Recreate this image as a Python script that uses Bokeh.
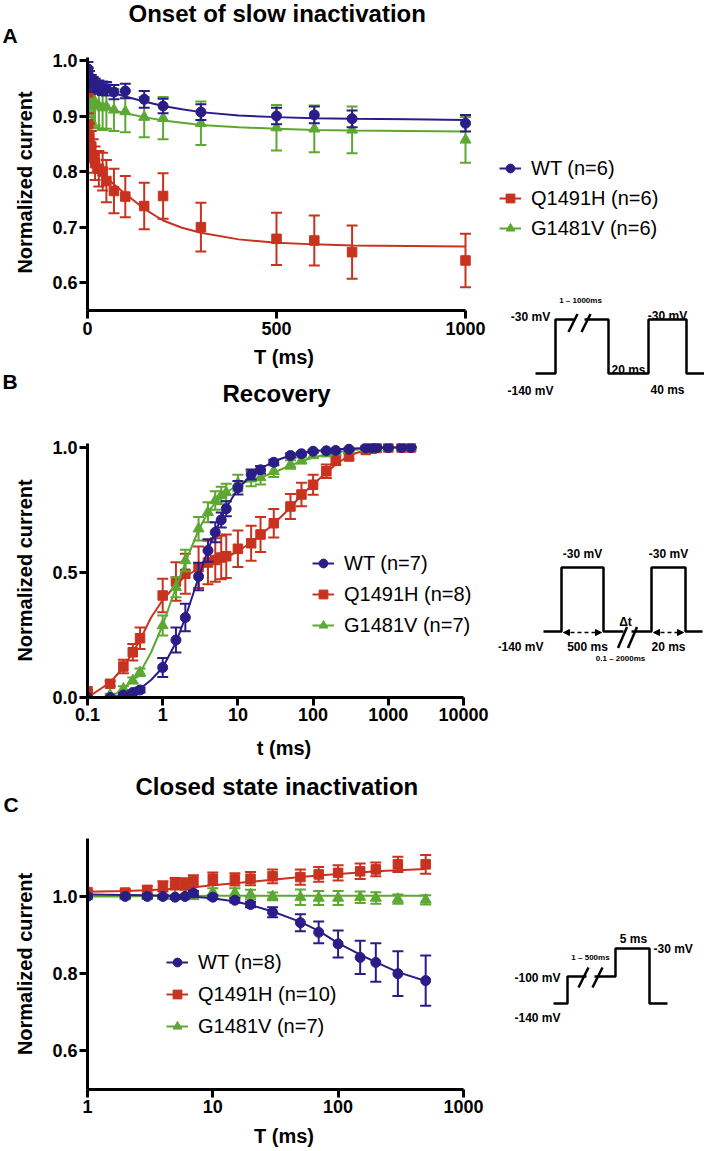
from bokeh.plotting import figure
from bokeh.models import (Range1d, FixedTicker, NumeralTickFormatter, CustomJSTickFormatter,
                          Legend, LegendItem, Title, Arrow, NormalHead, Spacer)
from bokeh.layouts import row, column
from bokeh.core.properties import value
from bokeh.embed import file_html
from bokeh.resources import INLINE

FONT = "Liberation Sans"
BLUE = "#2B1D87"
RED = "#C8321F"
GREEN = "#5DA833"

# ---------------- Panel A: onset of slow inactivation ----------------
A_T = [1, 2, 5, 10, 15, 20, 30, 40, 50, 70, 100, 150, 200, 300, 500, 600, 700, 1000]
WT_A = [0.985, 0.975, 0.968, 0.962, 0.958, 0.955, 0.952, 0.950, 0.949, 0.943, 0.945, 0.930, 0.918, 0.907, 0.900, 0.902, 0.895, 0.887]
WT_A_ERR = [0.012, 0.012, 0.013, 0.012, 0.012, 0.012, 0.012, 0.012, 0.012, 0.013, 0.013, 0.015, 0.013, 0.014, 0.015, 0.015, 0.015, 0.015]
Q_A = [0.945, 0.885, 0.862, 0.845, 0.828, 0.815, 0.805, 0.800, 0.783, 0.765, 0.755, 0.738, 0.756, 0.700, 0.679, 0.676, 0.655, 0.640]
Q_A_ERR = [0.010, 0.020, 0.025, 0.028, 0.030, 0.030, 0.032, 0.034, 0.038, 0.040, 0.037, 0.042, 0.041, 0.044, 0.047, 0.045, 0.048, 0.048]
G_A = [0.950, 0.935, 0.928, 0.922, 0.920, 0.925, 0.918, 0.915, 0.917, 0.911, 0.908, 0.898, 0.896, 0.887, 0.879, 0.877, 0.875, 0.857]
G_A_ERR = [0.010, 0.020, 0.030, 0.035, 0.040, 0.042, 0.040, 0.040, 0.040, 0.038, 0.037, 0.036, 0.038, 0.039, 0.041, 0.042, 0.042, 0.041]
A_FIT_T = [0, 5, 10, 20, 35, 50, 75, 100, 150, 200, 250, 300, 400, 500, 600, 700, 850, 1000]
WT_A_FIT = [0.965, 0.957, 0.953, 0.950, 0.947, 0.945, 0.940, 0.935, 0.926, 0.918, 0.912, 0.907, 0.901, 0.898, 0.896, 0.895, 0.894, 0.893]
Q_A_FIT = [0.875, 0.850, 0.834, 0.815, 0.800, 0.789, 0.774, 0.760, 0.733, 0.712, 0.699, 0.690, 0.678, 0.672, 0.669, 0.667, 0.666, 0.665]
G_A_FIT = [0.930, 0.926, 0.924, 0.920, 0.916, 0.913, 0.909, 0.905, 0.898, 0.892, 0.888, 0.884, 0.880, 0.877, 0.875, 0.874, 0.873, 0.872]
A_LABELS = ["WT (n=6)", "Q1491H (n=6)", "G1481V (n=6)"]
A_XTICKS = [0, 500, 1000]
A_YTICKS = [0.6, 0.7, 0.8, 0.9, 1.0]

# ---------------- Panel B: recovery ----------------
B_T = [0.1, 0.2, 0.3, 0.4, 0.5, 1, 1.5, 2, 3, 4, 5, 6, 7, 10, 15, 20, 30, 50, 70, 100, 150, 200, 300, 500, 600, 700, 1000, 1500, 2000]
WT_B = [0.0, 0.0, 0.01, 0.02, 0.03, 0.12, 0.23, 0.32, 0.484, 0.588, 0.661, 0.71, 0.755, 0.839, 0.892, 0.911, 0.941, 0.968, 0.975, 0.985, 0.987, 0.988, 0.993, 0.998, 1.0, 1.0, 1.0, 1.0, 1.0]
WT_B_ERR = [0, 0, 0.005, 0.008, 0.01, 0.038, 0.05, 0.055, 0.055, 0.045, 0.04, 0.03, 0.03, 0.027, 0.02, 0.015, 0.01, 0.008, 0.006, 0.005, 0.004, 0.004, 0.003, 0.002, 0.002, 0.002, 0.002, 0.002, 0.002]
Q_B = [0.025, 0.055, 0.124, 0.181, 0.237, 0.408, 0.464, 0.495, 0.521, 0.54, 0.55, 0.56, 0.565, 0.595, 0.617, 0.652, 0.697, 0.764, 0.812, 0.851, 0.905, 0.948, 0.964, 0.99, 0.995, 0.998, 1.0, 1.0, 1.0]
Q_B_ERR = [0.005, 0.01, 0.027, 0.033, 0.043, 0.067, 0.077, 0.08, 0.083, 0.087, 0.087, 0.087, 0.087, 0.073, 0.07, 0.07, 0.057, 0.05, 0.047, 0.04, 0.027, 0.018, 0.012, 0.006, 0.004, 0.003, 0.002, 0.002, 0.002]
G_B = [0.0, 0.01, 0.035, 0.068, 0.101, 0.288, 0.441, 0.548, 0.675, 0.741, 0.788, 0.808, 0.82, 0.858, 0.875, 0.88, 0.905, 0.932, 0.948, 0.968, 0.975, 0.982, 0.99, 0.995, 0.998, 1.0, 1.0, 1.0, 1.0]
G_B_ERR = [0, 0.005, 0.01, 0.012, 0.015, 0.04, 0.04, 0.043, 0.047, 0.04, 0.037, 0.035, 0.035, 0.033, 0.03, 0.028, 0.023, 0.017, 0.012, 0.01, 0.008, 0.006, 0.005, 0.003, 0.003, 0.002, 0.002, 0.002, 0.002]
WT_B_FIT_T = [0.2, 0.3, 0.5, 0.7, 1, 1.5, 2, 3, 4, 5, 7, 10, 15, 20, 30, 50, 70, 100, 200, 500, 1000, 2000]
WT_B_FIT = [0.0, 0.01, 0.035, 0.07, 0.12, 0.22, 0.32, 0.48, 0.59, 0.665, 0.76, 0.835, 0.89, 0.915, 0.945, 0.968, 0.978, 0.985, 0.993, 0.998, 1.0, 1.0]
Q_B_FIT_T = [0.1, 0.2, 0.3, 0.5, 0.7, 1, 1.5, 2, 3, 4, 5, 7, 10, 15, 20, 30, 50, 70, 100, 150, 200, 300, 500, 1000, 2000]
Q_B_FIT = [0.0, 0.06, 0.12, 0.23, 0.32, 0.39, 0.45, 0.485, 0.515, 0.53, 0.54, 0.56, 0.585, 0.62, 0.65, 0.695, 0.76, 0.81, 0.852, 0.9, 0.932, 0.968, 0.99, 1.0, 1.0]
G_B_FIT_T = [0.2, 0.3, 0.5, 0.7, 1, 1.5, 2, 3, 4, 5, 7, 10, 15, 20, 30, 50, 70, 100, 150, 200, 300, 500]
G_B_FIT = [0.0, 0.035, 0.1, 0.18, 0.29, 0.44, 0.54, 0.67, 0.74, 0.78, 0.82, 0.85, 0.87, 0.88, 0.9, 0.928, 0.945, 0.96, 0.972, 0.98, 0.988, 0.995]
B_LABELS = ["WT (n=7)", "Q1491H (n=8)", "G1481V (n=7)"]
B_XTICKS = [0.1, 1, 10, 100, 1000, 10000]
B_YTICKS = [0.0, 0.5, 1.0]

# ---------------- Panel C: closed state inactivation ----------------
C_T = [1, 2, 3, 4, 5, 6, 7, 10, 15, 20, 30, 50, 70, 100, 150, 200, 300, 500]
WT_C = [1.0, 1.0, 1.0, 1.0, 0.998, 1.0, 1.009, 0.998, 0.99, 0.979, 0.959, 0.932, 0.907, 0.877, 0.842, 0.829, 0.80, 0.782]
WT_C_ERR = [0.003, 0.004, 0.004, 0.004, 0.004, 0.004, 0.005, 0.005, 0.006, 0.007, 0.013, 0.022, 0.028, 0.035, 0.043, 0.05, 0.058, 0.065]
Q_C = [1.011, 1.01, 1.017, 1.026, 1.033, 1.032, 1.04, 1.046, 1.044, 1.046, 1.052, 1.05, 1.057, 1.061, 1.065, 1.07, 1.083, 1.083]
Q_C_ERR = [0.005, 0.008, 0.01, 0.013, 0.015, 0.015, 0.015, 0.016, 0.016, 0.017, 0.018, 0.02, 0.019, 0.02, 0.02, 0.018, 0.02, 0.024]
G_C = [1.0, 1.0, 1.0, 1.0, 1.0, 1.0, 1.0, 1.011, 1.009, 1.005, 1.0, 0.998, 0.996, 0.996, 0.998, 0.996, 0.993, 0.991]
G_C_ERR = [0.003, 0.003, 0.003, 0.003, 0.003, 0.003, 0.003, 0.01, 0.012, 0.012, 0.01, 0.02, 0.018, 0.018, 0.015, 0.015, 0.012, 0.012]
C_FIT_T = [1, 2, 3, 5, 7, 10, 15, 20, 30, 50, 70, 100, 150, 200, 300, 500]
WT_C_FIT = [1.005, 1.004, 1.003, 1.001, 0.999, 0.995, 0.987, 0.978, 0.961, 0.934, 0.911, 0.879, 0.849, 0.83, 0.804, 0.781]
Q_C_FIT = [1.012, 1.014, 1.016, 1.02, 1.024, 1.029, 1.034, 1.038, 1.043, 1.05, 1.054, 1.058, 1.062, 1.065, 1.068, 1.071]
G_C_FIT = [1.0, 1.0, 1.001, 1.001, 1.001, 1.002, 1.002, 1.002, 1.002, 1.002, 1.002, 1.002, 1.002, 1.002, 1.002, 1.002]
C_LABELS = ["WT (n=8)", "Q1491H (n=10)", "G1481V (n=7)"]
C_XTICKS = [1, 10, 100, 1000]
C_YTICKS = [0.6, 0.8, 1.0]

# ---------------- Protocol insets (schematic step durations / heights) ----------------
INSET_A_DUR = [20, 53, 40, 38, 18]
INSET_A_LEV = [0, 54, 0, 54, 0]
INSET_B_DUR = [18, 42, 48, 34, 17]
INSET_B_LEV = [0, 64, 0, 64, 0]
INSET_C_DUR = [14, 48, 34, 18]
INSET_C_LEV = [0, 27, 55, 0]

LEFT_W = 498
RIGHT_W = 206
FL = 87        # frame left (page px)
FR = 480       # frame right (page px)
MB_L = FL
MB_R = LEFT_W - FR
BASE_FIX = 2   # font-metric correction for title baselines


def style(p, xlabel, ylabel, xt, yt, x_fmt, xl_stand, xlab_stand):
    p.xaxis.axis_label = xlabel
    p.yaxis.axis_label = ylabel
    for ax in (p.xaxis[0], p.yaxis[0]):
        ax.axis_line_width = 3
        ax.axis_line_color = "black"
        ax.major_tick_line_width = 3
        ax.major_tick_line_color = "black"
        ax.major_tick_out = 8
        ax.major_tick_in = 0
        ax.minor_tick_line_color = None
        ax.major_label_text_font = FONT
        ax.major_label_text_font_style = "bold"
        ax.major_label_text_font_size = "18px"
        ax.major_label_text_color = "black"
        ax.axis_label_text_font = FONT
        ax.axis_label_text_font_style = "bold"
        ax.axis_label_text_font_size = "20px"
        ax.axis_label_text_color = "black"
    p.xaxis.ticker = FixedTicker(ticks=xt)
    p.yaxis.ticker = FixedTicker(ticks=yt)
    if x_fmt is not None:
        p.xaxis.formatter = x_fmt
    p.yaxis.formatter = NumeralTickFormatter(format="0.0")
    p.xaxis.major_label_standoff = xl_stand
    p.xaxis.axis_label_standoff = xlab_stand
    p.yaxis.major_label_standoff = 2
    p.yaxis.axis_label_standoff = 13
    p.xgrid.visible = False
    p.ygrid.visible = False
    p.outline_line_color = None


def series(p, t, y, err, ft, fy, color, marker, size):
    fit = p.line(ft, fy, line_color=color, line_width=2)
    lo = [a - b for a, b in zip(y, err)]
    hi = [a + b for a, b in zip(y, err)]
    p.segment(x0=t, y0=lo, x1=t, y1=hi, line_color=color, line_width=2)
    p.scatter(x=list(t) + list(t), y=lo + hi, marker="dash", size=11, line_color=color, line_width=2)
    mk = p.scatter(x=t, y=y, marker=marker, size=size, fill_color=color, line_color=color)
    return [fit, mk]


def add_titles(p, specs, top0, frame_top):
    """specs listed top to bottom: (text, font_px, baseline_page_y, left_page_x, mode)."""
    T = top0
    made = []
    for text, fs, base, left, mode in specs:
        h = 1.117 * fs
        a = 0.905 * fs
        box_top = base - BASE_FIX - a
        if mode == "top":
            S = 2 * (box_top - T)
        else:
            S = 2 * (box_top - T - 2)
        made.append(Title(text=text, align="left", offset=left - FL, vertical_align=mode, standoff=S,
                          text_font=FONT, text_font_style="bold", text_font_size=f"{fs}px",
                          text_color="black"))
        T += 2 + h + S
    fill = frame_top - T
    # invisible (white) spacer title that fills the gap down to the frame
    filler = Title(text=".", align="left", offset=-FL, vertical_align="top", text_font_size="2px",
                   text_color="white", standoff=fill - 2 - 1.117 * 2)
    p.add_layout(filler, "above")
    for t in reversed(made):
        p.add_layout(t, "above")


def make_legend(items, x, y, spacing):
    return Legend(items=items, location=(x, y), padding=0, margin=0, spacing=spacing,
                  label_standoff=10, glyph_width=22, glyph_height=24, label_height=20,
                  border_line_color=None, background_fill_alpha=0,
                  label_text_font=FONT, label_text_font_size="20px", label_text_color="black")


# ---- A ---- (page y 0..370, frame 54..312)
pA = figure(width=LEFT_W, height=370, title=None, x_range=Range1d(0, (FR - FL) / 0.378),
            y_range=Range1d(0.55, 1.0107), toolbar_location=None, output_backend="svg",
            min_border_left=MB_L, min_border_right=MB_R, min_border_top=54, min_border_bottom=58)
style(pA, "T (ms)", "Normalized current", A_XTICKS, A_YTICKS, None, 3, 8)
pA.xaxis.bounds = (0, 1000)
pA.yaxis.bounds = (0.55, 1.005)
rA_g = series(pA, A_T, G_A, G_A_ERR, A_FIT_T, G_A_FIT, GREEN, "triangle", 11)
rA_r = series(pA, A_T, Q_A, Q_A_ERR, A_FIT_T, Q_A_FIT, RED, "square", 9.5)
rA_b = series(pA, A_T, WT_A, WT_A_ERR, A_FIT_T, WT_A_FIT, BLUE, "circle", 10)
add_titles(pA, [("Onset of slow inactivation", 24, 22, 128, "top"),
                ("A", 21, 43, 2, "top")], 0, 54)

# ---- B ---- (page y 370..768, frame 443..697)
pB = figure(width=LEFT_W, height=398, title=None, x_axis_type="log",
            x_range=Range1d(0.1, 0.1 * 10 ** ((FR - FL) / 75.2)), y_range=Range1d(0, 1.016),
            toolbar_location=None, output_backend="svg",
            min_border_left=MB_L, min_border_right=MB_R, min_border_top=73, min_border_bottom=71)
style(pB, "t (ms)", "Normalized current", B_XTICKS, B_YTICKS,
      CustomJSTickFormatter(code="return tick.toString();"), 2, 13)
pB.xaxis.bounds = (0.1, 10000)
rB_r = series(pB, B_T, Q_B, Q_B_ERR, Q_B_FIT_T, Q_B_FIT, RED, "square", 9.5)
rB_g = series(pB, B_T, G_B, G_B_ERR, G_B_FIT_T, G_B_FIT, GREEN, "triangle", 11)
rB_b = series(pB, B_T, WT_B, WT_B_ERR, WT_B_FIT_T, WT_B_FIT, BLUE, "circle", 10)
pB.add_layout(make_legend([LegendItem(label=B_LABELS[0], renderers=rB_b),
                           LegendItem(label=B_LABELS[1], renderers=rB_r),
                           LegendItem(label=B_LABELS[2], renderers=rB_g)], 225, 60, 7))
add_titles(pB, [("B", 21, 391, 2, "top"),
                ("Recovery", 24, 404, 222, "top")], 370, 443)

# ---- C ---- (page y 768..1150, frame 838..1089)
pC = figure(width=LEFT_W, height=382, title=None, x_axis_type="log",
            x_range=Range1d(1, 10 ** ((FR - FL) / 125.3)), y_range=Range1d(0.5, 1.15),
            toolbar_location=None, output_backend="svg",
            min_border_left=MB_L, min_border_right=MB_R, min_border_top=70, min_border_bottom=61)
style(pC, "T (ms)", "Normalized current", C_XTICKS, C_YTICKS,
      CustomJSTickFormatter(code="return tick.toString();"), 2, 9)
pC.xaxis.bounds = (1, 1000)
rC_g = series(pC, C_T, G_C, G_C_ERR, C_FIT_T, G_C_FIT, GREEN, "triangle", 11)
rC_r = series(pC, C_T, Q_C, Q_C_ERR, C_FIT_T, Q_C_FIT, RED, "square", 9.5)
rC_b = series(pC, C_T, WT_C, WT_C_ERR, C_FIT_T, WT_C_FIT, BLUE, "circle", 10)
pC.add_layout(make_legend([LegendItem(label=C_LABELS[0], renderers=rC_b),
                           LegendItem(label=C_LABELS[1], renderers=rC_r),
                           LegendItem(label=C_LABELS[2], renderers=rC_g)], 79, 51, 8))
add_titles(pC, [("Closed state inactivation", 24, 795, 135, "bottom"),
                ("C", 21, 812, 3, "top")], 768, 838)


# ---- right column ----
def blank(h):
    return figure(width=RIGHT_W, height=h, title=None, x_range=Range1d(0, RIGHT_W), y_range=Range1d(0, h),
                  x_axis_type=None, y_axis_type=None, toolbar_location=None, output_backend="svg",
                  min_border=0, outline_line_color=None)


legA = blank(280)
dummy = []
for col, mk, sz in ((BLUE, "circle", 10), (RED, "square", 9.5), (GREEN, "triangle", 11)):
    l = legA.line(x=[-500, -400], y=[-500, -500], line_color=col, line_width=2)
    s = legA.scatter(x=[-500], y=[-500], marker=mk, size=sz, fill_color=col, line_color=col)
    dummy.append([l, s])
legA.add_layout(make_legend([LegendItem(label=A_LABELS[i], renderers=dummy[i]) for i in range(3)], 1, 40, 6))


def steps(x0, base, durs, levs):
    xs, ys = [], []
    x = x0
    for d, lv in zip(durs, levs):
        xs.append(x); ys.append(base + lv)
        x += d
        xs.append(x); ys.append(base + lv)
    return xs, ys


def brk(f, cx, ly, half_gap, offs, dx, dy, yoff):
    f.segment(x0=[cx - half_gap], y0=[ly], x1=[cx + half_gap], y1=[ly], line_color="white", line_width=6)
    cy = ly + yoff
    f.segment(x0=[cx + o - dx for o in offs], y0=[cy - dy] * len(offs),
              x1=[cx + o + dx for o in offs], y1=[cy + dy] * len(offs),
              line_color="black", line_width=2.5)


def txt(f, x, y, t, size="12px", align="center"):
    f.text(x=[x], y=[y], text=[t], text_font=value(FONT), text_font_style="bold",
           text_font_size=value(size), text_align=align, text_baseline="middle", text_color="black")


insA = blank(120)   # page y 280..400
xs, ys = steps(37, 27, INSET_A_DUR, INSET_A_LEV)
insA.line(xs, ys, line_color="black", line_width=2.5)
brk(insA, 81, 81, 5, [-6.5, 6.5], 4.5, 9, -3.5)
txt(insA, 32, 84, "-30 mV")
txt(insA, 82, 100, "1 \u2013 1000ms", "8px")
txt(insA, 169, 85, "-30 mV")
txt(insA, 113, 31, "20 ms", align="left")
txt(insA, 32, 10, "-140 mV")
txt(insA, 169, 11, "40 ms")

insB = blank(135)   # page y 535..670
xs, ys = steps(45, 39, INSET_B_DUR, INSET_B_LEV)
insB.line(xs, ys, line_color="black", line_width=2.5)
brk(insB, 129, 39, 4, [-5, 5], 4.5, 10.5, -6)
for xa, xb in ((65, 103), (155, 185)):
    insB.add_layout(Arrow(x_start=xa, y_start=38, x_end=xb, y_end=38, line_dash="4 3", line_width=1.5,
                          start=NormalHead(size=6, fill_color="black", line_color="black"),
                          end=NormalHead(size=6, fill_color="black", line_color="black")))
txt(insB, 84, 117, "-30 mV")
txt(insB, 170, 117, "-30 mV")
txt(insB, 22, 24, "-140 mV")
txt(insB, 89, 24, "500 ms")
txt(insB, 127, 49, "\u0394t")
txt(insB, 170, 24, "20 ms")
txt(insB, 122, 12, "0.1 \u2013 2000ms", "8px")

insC = blank(115)   # page y 915..1030
xs, ys = steps(55, 27, INSET_C_DUR, INSET_C_LEV)
insC.line(xs, ys, line_color="black", line_width=2.5)
brk(insC, 92, 54, 4, [-7, 7], 5, 10, -1)
txt(insC, 135, 92, "5 ms")
txt(insC, 155, 82, "-30 mV", align="left")
txt(insC, 92, 73, "1 \u2013 500ms", "8px")
txt(insC, 62, 53, "-100 mV", align="right")
txt(insC, 39, 13, "-140 mV")

right = column(legA, insA, Spacer(width=RIGHT_W, height=135), insB,
               Spacer(width=RIGHT_W, height=245), insC)
left = column(pA, pB, pC)
layout = row(left, right)

open("out.html", "w").write(file_html(layout, INLINE))
